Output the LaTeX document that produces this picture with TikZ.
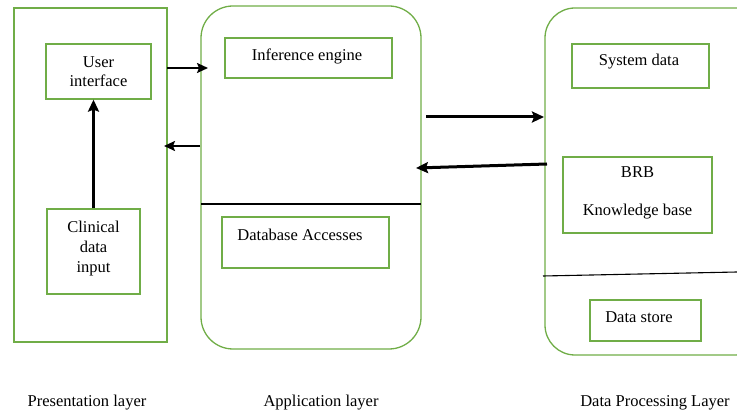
\documentclass[tikz,border=0pt]{standalone}
\usepackage{fontspec}
\setmainfont{Liberation Serif}
\usetikzlibrary{arrows.meta}
\definecolor{gr}{RGB}{112,173,71}
\begin{document}
\begin{tikzpicture}[x=1pt,y=-1pt,
  box/.style={draw=gr,line width=1.3pt,minimum width=#1,inner sep=0pt,font=\fontsize{16}{18}\selectfont,align=center},
  lay/.style={draw=gr,line width=1.3pt,inner sep=0pt},
  lbl/.style={font=\fontsize{16.5}{18}\selectfont,align=center},
  thk/.style={line width=3pt,-{Stealth[length=12pt,width=11pt,inset=2pt]}},
  thn/.style={line width=1.8pt,-{Stealth[length=11pt,width=10pt,inset=2pt]}}]
\useasboundingbox (0,0) rectangle (737,414);
% layers
\node[lay,minimum width=153pt,minimum height=334pt] (pres) at (90.5,175) {};
\node[lay,rounded corners=32pt,minimum width=220pt,minimum height=343pt] (app) at (311,177.5) {};
\node[lay,rounded corners=30pt,minimum width=220pt,minimum height=347pt] (dp) at (655,181.5) {};
% inner boxes
\node[box=105pt,minimum height=55pt] (ui) at (98.5,71.5) {};
\node[lbl] (uit) at (98.5,72) {User\\[1pt]interface};
\node[box=93pt,minimum height=85pt] (cd) at (93.5,251.5) {};
\node[lbl] (cdt) at (93.5,249) {Clinical\\[2pt]data\\[2pt]input};
\node[box=167pt,minimum height=40pt] (ie) at (308.5,58) {};
\node[lbl] (iet) at (307,56) {Inference engine};
\node[box=167pt,minimum height=51pt] (db) at (305.5,242.5) {};
\node[lbl] (dbt) at (300,235) {Database Accesses};
\node[box=137pt,minimum height=44pt] (sd) at (640.5,66) {};
\node[lbl] (sdt) at (639,62) {System data};
\node[box=149pt,minimum height=76pt] (brb) at (637.5,195) {};
\node[lbl] (brbt) at (637.5,193) {BRB\\[20pt]Knowledge base};
\node[box=111pt,minimum height=41pt] (ds) at (645.5,320.5) {};
\node[lbl] (dst) at (639,317) {Data store};
% labels
\node[lbl] (l1) at (87,403) {Presentation layer};
\node[lbl] (l2) at (321,403) {Application layer};
\node[lbl] (l3) at (655,403) {Data Processing Layer};
% separators
\coordinate (a1) at (201,204);
\coordinate (a2) at (421,204);
\draw[line width=2.4pt] (a1) -- (a2);
\coordinate (b1) at (543,276);
\coordinate (b2) at (737,272);
\draw[line width=1.1pt] (b1) -- (b2);
% arrows
\draw[thk] (cd.north) -- (cd.north |- ui.south);
\coordinate (p1) at (167,68);
\coordinate (p2) at (208,68);
\draw[thn] (p1) -- (p2);
\coordinate (q1) at (200,146);
\coordinate (q2) at (164,146);
\draw[thn] (q1) -- (q2);
\coordinate (r1) at (426,117);
\coordinate (r2) at (544,117);
\draw[thk] (r1) -- (r2);
\coordinate (s1) at (547,164);
\coordinate (s2) at (416,168);
\draw[thk] (s1) -- (s2);
\end{tikzpicture}
\end{document}
